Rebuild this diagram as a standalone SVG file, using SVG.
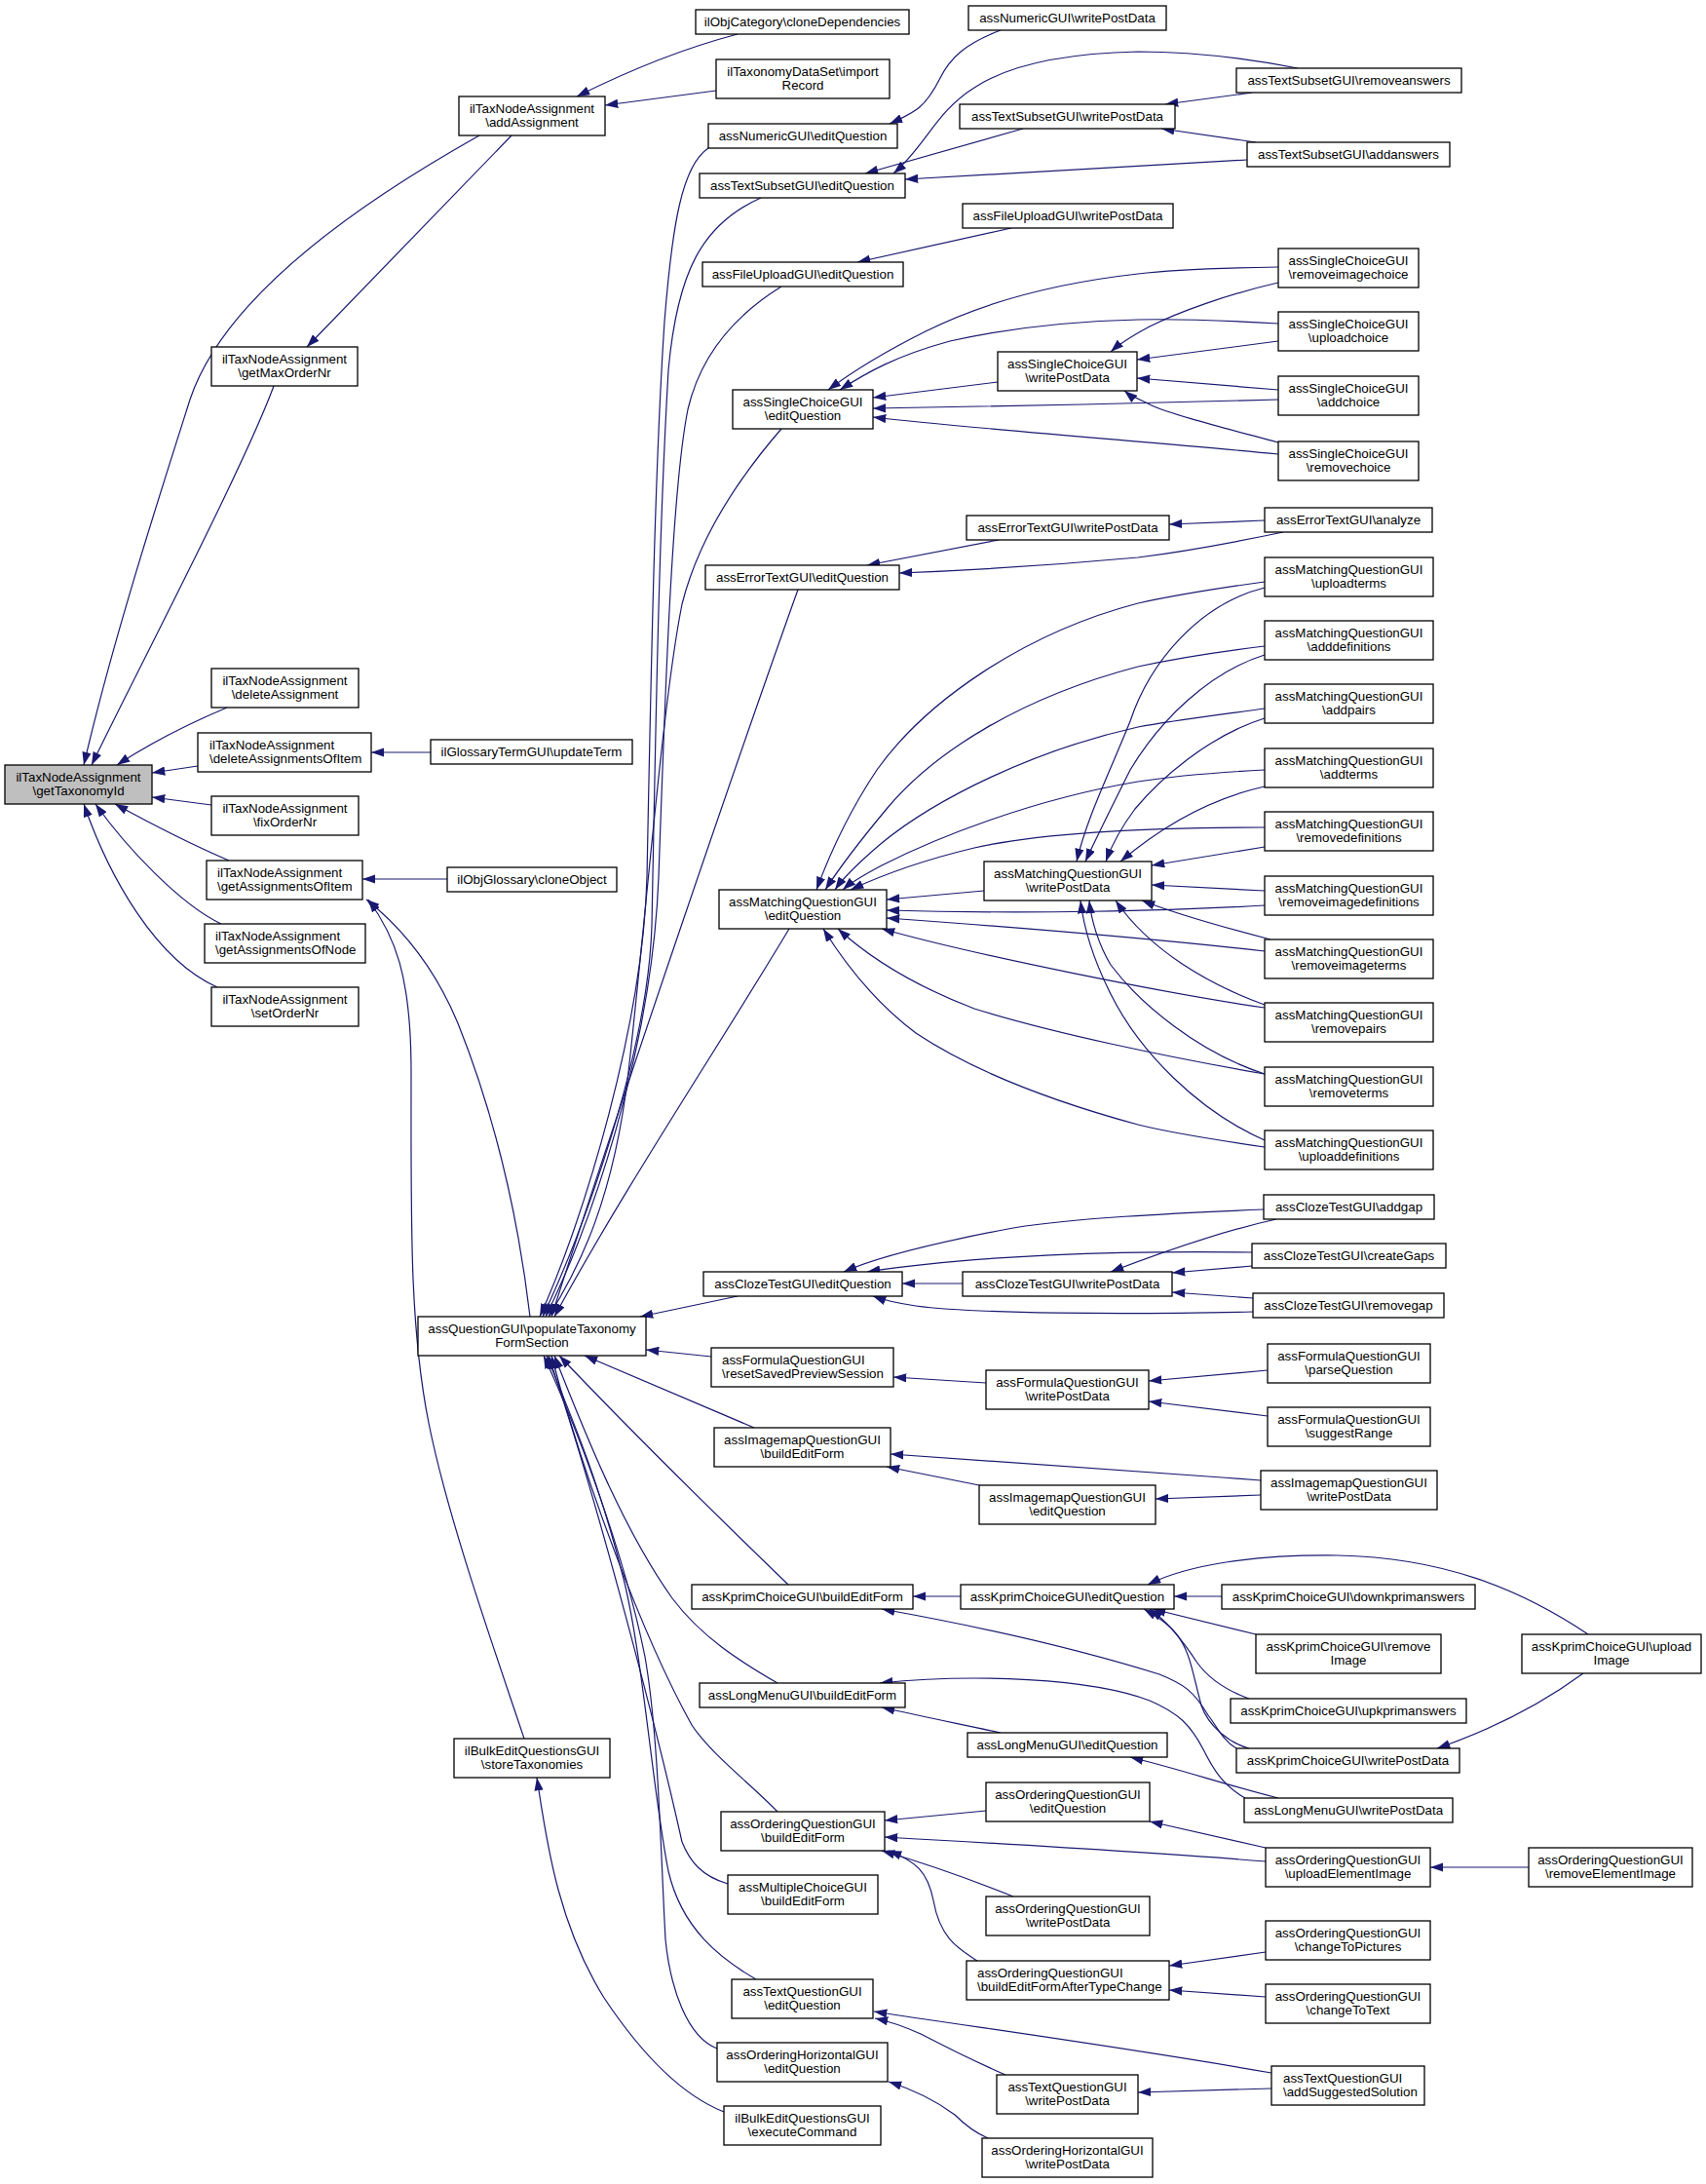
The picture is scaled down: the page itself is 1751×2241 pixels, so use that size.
<svg xmlns="http://www.w3.org/2000/svg" width="1751" height="2241" viewBox="0 0 1751 2241">
<style>
.n rect{fill:#fff;stroke:#000;stroke-width:1.3}
.r rect{fill:#bfbfbf;stroke:#000;stroke-width:1.3}
text{font-family:"Liberation Sans",Arial,Helvetica,sans-serif;font-size:13.33px;fill:#000}
.m{text-anchor:middle}
#edges path{fill:none;stroke:#191970;stroke-width:1.2;marker-end:url(#ah)}
</style>
<defs>
<marker id="ah" viewBox="0 0 13.3 9.3" refX="13.3" refY="4.65" markerWidth="13.3" markerHeight="9.3" markerUnits="userSpaceOnUse" orient="auto"><path d="M0,0 L13.3,4.65 L0,9.3 z" fill="#191970"/></marker>
</defs>
<rect x="0" y="0" width="1751" height="2241" fill="#fff"/>
<g id="edges">
<path d="M492,139 C330,230 225,320 195,410 C160,520 115,660 86,785"/>
<path d="M281,396 C250,480 140,690 94,785"/>
<path d="M233,726 C195,742 155,762 120,785"/>
<path d="M203,786 L156,793"/>
<path d="M217,826 L156,818"/>
<path d="M235,883 C200,868 160,848 118,825"/>
<path d="M227,948 C185,928 130,870 98,825"/>
<path d="M223,1013 C160,985 112,900 86,825"/>
<path d="M525,139 L315,356"/>
<path d="M757,35 C700,50 640,75 592,99"/>
<path d="M735,93 L621,108"/>
<path d="M442,772 L381,772"/>
<path d="M459,902 L372,902"/>
<path d="M544,1351 C532,1250 510,1150 470,1050 C445,990 410,950 376,923"/>
<path d="M538,1784 C510,1700 460,1560 440,1460 C420,1360 422,1250 422,1100 C422,1000 405,960 378,923"/>
<path d="M727,152 C700,170 690,230 682,330 C672,480 668,700 664,900 C660,1050 600,1250 554,1351"/>
<path d="M781,203 C720,230 695,280 686,380 C676,550 673,750 669,950 C665,1080 600,1260 557,1351"/>
<path d="M802,294 C760,320 720,360 706,420 C690,500 683,700 676,900 C669,1080 605,1260 560,1351"/>
<path d="M802,440 C750,500 715,560 700,620 C680,720 662,950 645,1100 C630,1230 595,1300 563,1351"/>
<path d="M819,605 C760,770 640,1120 566,1351"/>
<path d="M810,953 C740,1070 640,1220 569,1351"/>
<path d="M757,1330 L657,1351"/>
<path d="M730,1392 L663,1385"/>
<path d="M774,1465 L600,1391"/>
<path d="M809,1626 C720,1540 630,1450 574,1391"/>
<path d="M798,1727 C760,1705 720,1680 690,1640 C640,1570 600,1470 569,1391"/>
<path d="M798,1859 C770,1830 730,1800 710,1770 C660,1680 600,1520 566,1391"/>
<path d="M747,1933 C720,1925 708,1910 700,1890 C680,1800 620,1560 563,1391"/>
<path d="M776,2031 C740,2010 700,1980 686,1920 C670,1840 660,1700 640,1620 C615,1520 585,1450 561,1391"/>
<path d="M736,2102 C705,2090 688,2040 683,1990 C678,1900 676,1780 662,1700 C640,1590 590,1460 558,1391"/>
<path d="M743,2167 C700,2150 660,2110 620,2050 C570,1970 560,1880 551,1824"/>
<path d="M1027,31 C990,45 975,60 965,80 C950,110 940,115 913,127"/>
<path d="M1332,70 C1280,60 1220,53 1168,53 C1080,55 1030,70 1000,90 C960,115 950,150 917,178"/>
<path d="M1050,132 L888,178"/>
<path d="M1280,164 L929,184"/>
<path d="M1285,95 L1196,107"/>
<path d="M1289,146 L1192,132"/>
<path d="M1038,234 L880,269"/>
<path d="M1024,392 L896,408"/>
<path d="M1312,274 C1250,275 1200,277 1168,281 C1070,292 1000,315 950,340 C900,365 870,385 850,400"/>
<path d="M1312,332 C1260,329 1210,327 1168,328 C1080,330 1020,340 975,350 C920,365 890,382 862,400"/>
<path d="M1312,290 C1260,302 1210,320 1180,335 C1165,343 1150,352 1140,361"/>
<path d="M1312,350 L1167,369"/>
<path d="M1312,400 L1167,388"/>
<path d="M1312,410 C1200,413 1000,418 896,419"/>
<path d="M1312,454 C1260,440 1200,425 1180,415 C1170,410 1160,406 1154,401"/>
<path d="M1312,466 C1200,455 1000,440 896,428"/>
<path d="M1025,554 L890,580"/>
<path d="M1298,534 L1200,538"/>
<path d="M1317,546 C1260,558 1200,568 1168,572 C1080,580 1000,585 923,588"/>
<path d="M1010,914 L910,923"/>
<path d="M1298,597 C1240,605 1200,612 1168,619 C1050,650 950,720 900,790 C870,835 852,875 838,913"/>
<path d="M1298,663 C1240,670 1200,677 1168,684 C1050,715 960,770 910,830 C885,860 862,890 847,913"/>
<path d="M1298,727 C1240,735 1200,740 1168,746 C1060,770 960,820 905,865 C885,882 866,900 857,913"/>
<path d="M1298,790 C1240,793 1200,797 1168,802 C1060,820 960,860 905,888 C888,897 874,905 865,913"/>
<path d="M1298,849 C1200,849 1080,852 1000,870 C950,882 905,898 873,913"/>
<path d="M1298,929 C1200,935 1050,938 910,934"/>
<path d="M1298,976 C1200,965 1050,952 910,942"/>
<path d="M1298,1034 C1200,1020 1000,980 905,953"/>
<path d="M1298,1102 C1200,1085 1080,1060 1000,1035 C940,1012 895,985 860,953"/>
<path d="M1298,1177 C1250,1170 1200,1162 1168,1154 C1080,1130 1000,1100 940,1060 C900,1030 868,990 845,953"/>
<path d="M1298,603 C1230,620 1180,680 1160,740 C1140,790 1115,840 1105,884"/>
<path d="M1298,672 C1240,690 1190,740 1160,790 C1140,830 1125,860 1114,884"/>
<path d="M1298,737 C1240,755 1190,800 1165,830 C1150,850 1140,870 1135,884"/>
<path d="M1298,807 C1240,820 1190,850 1150,884"/>
<path d="M1298,869 L1182,888"/>
<path d="M1298,914 L1182,908"/>
<path d="M1304,964 C1250,950 1200,935 1172,924"/>
<path d="M1298,1031 C1240,1010 1180,975 1145,924"/>
<path d="M1298,1102 C1230,1080 1170,1030 1140,990 C1128,970 1120,945 1118,924"/>
<path d="M1298,1170 C1230,1140 1170,1080 1140,1020 C1120,980 1112,950 1109,924"/>
<path d="M988,1317 L926,1317"/>
<path d="M1297,1241 C1200,1245 1100,1250 1040,1260 C960,1275 900,1290 866,1305"/>
<path d="M1285,1285 C1150,1283 1000,1288 890,1305"/>
<path d="M1286,1346 C1150,1349 1000,1348 940,1340 C920,1337 907,1334 896,1330"/>
<path d="M1310,1251 C1260,1262 1200,1282 1140,1305"/>
<path d="M1285,1299 L1203,1306"/>
<path d="M1286,1332 L1203,1326"/>
<path d="M1012,1419 L917,1413"/>
<path d="M1301,1406 L1179,1417"/>
<path d="M1301,1453 L1179,1438"/>
<path d="M1294,1519 C1150,1508 1000,1498 914,1492"/>
<path d="M1005,1524 L910,1505"/>
<path d="M1294,1534 L1186,1538"/>
<path d="M986,1638 L937,1638"/>
<path d="M1269,1794 C1255,1786 1248,1770 1240,1760 C1225,1735 1215,1728 1190,1718 C1100,1690 1000,1668 905,1651"/>
<path d="M1254,1638 L1205,1638"/>
<path d="M1289,1677 L1183,1651"/>
<path d="M1282,1743 C1260,1735 1240,1722 1228,1705 C1215,1685 1200,1665 1180,1651"/>
<path d="M1282,1794 C1260,1788 1240,1770 1233,1750 C1225,1720 1222,1700 1213,1685 C1205,1670 1190,1660 1174,1651"/>
<path d="M1630,1677 C1560,1630 1480,1598 1373,1596 C1290,1595 1220,1605 1178,1626"/>
<path d="M1625,1717 C1580,1750 1530,1775 1475,1794"/>
<path d="M1027,1778 C990,1770 950,1762 905,1752"/>
<path d="M1278,1845 C1255,1832 1245,1815 1235,1795 C1222,1770 1210,1758 1180,1745 C1120,1722 1000,1717 903,1727"/>
<path d="M1312,1845 C1260,1832 1210,1815 1160,1803"/>
<path d="M1012,1858 L908,1868"/>
<path d="M1299,1910 C1200,1902 1050,1893 908,1885"/>
<path d="M1040,1946 C1000,1930 950,1912 905,1899"/>
<path d="M1003,2012 C985,2000 965,1990 958,1950 C952,1920 940,1910 912,1899"/>
<path d="M1299,1896 L1180,1869"/>
<path d="M1569,1916 L1468,1916"/>
<path d="M1299,2003 L1200,2017"/>
<path d="M1299,2049 L1200,2042"/>
<path d="M1032,2129 C1000,2115 970,2100 945,2087 C925,2078 912,2074 898,2071"/>
<path d="M1305,2127 C1150,2100 1000,2080 897,2064"/>
<path d="M1305,2143 L1168,2147"/>
<path d="M1014,2194 C1000,2188 990,2180 980,2170 C960,2155 940,2145 912,2136"/>
</g>
<g id="getTaxonomyId" class="r"><rect x="5" y="785" width="151" height="40"/><text class="m" x="80.5" y="801.5">ilTaxNodeAssignment</text><text class="m" x="80.5" y="816">\getTaxonomyId</text></g>
<g id="addAssignment" class="n"><rect x="471" y="99" width="150" height="40"/><text class="m" x="546" y="115.5">ilTaxNodeAssignment</text><text class="m" x="546" y="130">\addAssignment</text></g>
<g id="getMaxOrderNr" class="n"><rect x="217" y="356" width="150" height="40"/><text class="m" x="292" y="372.5">ilTaxNodeAssignment</text><text class="m" x="292" y="387">\getMaxOrderNr</text></g>
<g id="cloneDependencies" class="n"><rect x="714" y="10" width="219" height="25"/><text class="m" x="823.5" y="27">ilObjCategory\cloneDependencies</text></g>
<g id="importRecord" class="n"><rect x="735" y="61" width="178" height="40"/><text class="m" x="824" y="77.5">ilTaxonomyDataSet\import</text><text class="m" x="824" y="92">Record</text></g>
<g id="deleteAssignment" class="n"><rect x="217" y="686" width="151" height="40"/><text class="m" x="292.5" y="702.5">ilTaxNodeAssignment</text><text class="m" x="292.5" y="717">\deleteAssignment</text></g>
<g id="deleteAssignmentsOfItem" class="n"><rect x="203" y="752" width="178" height="40"/><text x="215" y="768.5">ilTaxNodeAssignment</text><text x="215" y="783">\deleteAssignmentsOfItem</text></g>
<g id="updateTerm" class="n"><rect x="442" y="759" width="207" height="25"/><text class="m" x="545.5" y="776">ilGlossaryTermGUI\updateTerm</text></g>
<g id="fixOrderNr" class="n"><rect x="217" y="817" width="151" height="40"/><text class="m" x="292.5" y="833.5">ilTaxNodeAssignment</text><text class="m" x="292.5" y="848">\fixOrderNr</text></g>
<g id="getAssignmentsOfItem" class="n"><rect x="212" y="883" width="160" height="40"/><text x="223" y="899.5">ilTaxNodeAssignment</text><text x="223" y="914">\getAssignmentsOfItem</text></g>
<g id="cloneObject" class="n"><rect x="459" y="890" width="174" height="25"/><text class="m" x="546" y="907">ilObjGlossary\cloneObject</text></g>
<g id="getAssignmentsOfNode" class="n"><rect x="210" y="948" width="165" height="40"/><text x="221" y="964.5">ilTaxNodeAssignment</text><text x="221" y="979">\getAssignmentsOfNode</text></g>
<g id="setOrderNr" class="n"><rect x="217" y="1013" width="151" height="40"/><text class="m" x="292.5" y="1029.5">ilTaxNodeAssignment</text><text class="m" x="292.5" y="1044">\setOrderNr</text></g>
<g id="populateTaxonomyFormSection" class="n"><rect x="429" y="1351" width="234" height="40"/><text class="m" x="546" y="1367.5">assQuestionGUI\populateTaxonomy</text><text class="m" x="546" y="1382">FormSection</text></g>
<g id="storeTaxonomies" class="n"><rect x="466" y="1784" width="160" height="40"/><text class="m" x="546" y="1800.5">ilBulkEditQuestionsGUI</text><text class="m" x="546" y="1815">\storeTaxonomies</text></g>
<g id="numEdit" class="n"><rect x="727" y="127" width="194" height="25"/><text class="m" x="824" y="144">assNumericGUI\editQuestion</text></g>
<g id="tsEdit" class="n"><rect x="718" y="178" width="211" height="25"/><text class="m" x="823.5" y="195">assTextSubsetGUI\editQuestion</text></g>
<g id="fuEdit" class="n"><rect x="721" y="269" width="206" height="25"/><text class="m" x="824" y="286">assFileUploadGUI\editQuestion</text></g>
<g id="scEdit" class="n"><rect x="752" y="400" width="144" height="40"/><text class="m" x="824" y="416.5">assSingleChoiceGUI</text><text class="m" x="824" y="431">\editQuestion</text></g>
<g id="etEdit" class="n"><rect x="724" y="580" width="199" height="25"/><text class="m" x="823.5" y="597">assErrorTextGUI\editQuestion</text></g>
<g id="mqEdit" class="n"><rect x="738" y="913" width="172" height="40"/><text class="m" x="824" y="929.5">assMatchingQuestionGUI</text><text class="m" x="824" y="944">\editQuestion</text></g>
<g id="ctEdit" class="n"><rect x="722" y="1305" width="204" height="25"/><text class="m" x="824" y="1322">assClozeTestGUI\editQuestion</text></g>
<g id="fqReset" class="n"><rect x="730" y="1383" width="187" height="40"/><text x="741" y="1399.5">assFormulaQuestionGUI</text><text x="741" y="1414">\resetSavedPreviewSession</text></g>
<g id="imBuild" class="n"><rect x="733" y="1465" width="181" height="40"/><text class="m" x="823.5" y="1481.5">assImagemapQuestionGUI</text><text class="m" x="823.5" y="1496">\buildEditForm</text></g>
<g id="kpBuild" class="n"><rect x="710" y="1626" width="227" height="25"/><text class="m" x="823.5" y="1643">assKprimChoiceGUI\buildEditForm</text></g>
<g id="lmBuild" class="n"><rect x="718" y="1727" width="211" height="25"/><text class="m" x="823.5" y="1744">assLongMenuGUI\buildEditForm</text></g>
<g id="oqBuild" class="n"><rect x="740" y="1859" width="168" height="40"/><text class="m" x="824" y="1875.5">assOrderingQuestionGUI</text><text class="m" x="824" y="1890">\buildEditForm</text></g>
<g id="mcBuild" class="n"><rect x="747" y="1924" width="154" height="40"/><text class="m" x="824" y="1940.5">assMultipleChoiceGUI</text><text class="m" x="824" y="1955">\buildEditForm</text></g>
<g id="tqEdit" class="n"><rect x="751" y="2031" width="145" height="40"/><text class="m" x="823.5" y="2047.5">assTextQuestionGUI</text><text class="m" x="823.5" y="2062">\editQuestion</text></g>
<g id="ohEdit" class="n"><rect x="736" y="2096" width="175" height="40"/><text class="m" x="823.5" y="2112.5">assOrderingHorizontalGUI</text><text class="m" x="823.5" y="2127">\editQuestion</text></g>
<g id="executeCommand" class="n"><rect x="743" y="2161" width="161" height="40"/><text class="m" x="823.5" y="2177.5">ilBulkEditQuestionsGUI</text><text class="m" x="823.5" y="2192">\executeCommand</text></g>
<g id="numWPD" class="n"><rect x="994" y="6" width="203" height="25"/><text class="m" x="1095.5" y="23">assNumericGUI\writePostData</text></g>
<g id="tsWPD" class="n"><rect x="985" y="107" width="221" height="25"/><text class="m" x="1095.5" y="124">assTextSubsetGUI\writePostData</text></g>
<g id="fuWPD" class="n"><rect x="988" y="209" width="216" height="25"/><text class="m" x="1096" y="226">assFileUploadGUI\writePostData</text></g>
<g id="scWPD" class="n"><rect x="1024" y="361" width="143" height="40"/><text class="m" x="1095.5" y="377.5">assSingleChoiceGUI</text><text class="m" x="1095.5" y="392">\writePostData</text></g>
<g id="etWPD" class="n"><rect x="992" y="529" width="208" height="25"/><text class="m" x="1096" y="546">assErrorTextGUI\writePostData</text></g>
<g id="mqWPD" class="n"><rect x="1010" y="884" width="172" height="40"/><text class="m" x="1096" y="900.5">assMatchingQuestionGUI</text><text class="m" x="1096" y="915">\writePostData</text></g>
<g id="ctWPD" class="n"><rect x="988" y="1305" width="215" height="25"/><text class="m" x="1095.5" y="1322">assClozeTestGUI\writePostData</text></g>
<g id="fqWPD" class="n"><rect x="1012" y="1406" width="167" height="40"/><text class="m" x="1095.5" y="1422.5">assFormulaQuestionGUI</text><text class="m" x="1095.5" y="1437">\writePostData</text></g>
<g id="imEdit" class="n"><rect x="1005" y="1524" width="181" height="40"/><text class="m" x="1095.5" y="1540.5">assImagemapQuestionGUI</text><text class="m" x="1095.5" y="1555">\editQuestion</text></g>
<g id="kpEdit" class="n"><rect x="986" y="1626" width="219" height="25"/><text class="m" x="1095.5" y="1643">assKprimChoiceGUI\editQuestion</text></g>
<g id="lmEdit" class="n"><rect x="993" y="1778" width="205" height="25"/><text class="m" x="1095.5" y="1795">assLongMenuGUI\editQuestion</text></g>
<g id="oqEdit" class="n"><rect x="1012" y="1829" width="168" height="40"/><text class="m" x="1096" y="1845.5">assOrderingQuestionGUI</text><text class="m" x="1096" y="1860">\editQuestion</text></g>
<g id="oqWPD" class="n"><rect x="1012" y="1946" width="168" height="40"/><text class="m" x="1096" y="1962.5">assOrderingQuestionGUI</text><text class="m" x="1096" y="1977">\writePostData</text></g>
<g id="oqBEFATC" class="n"><rect x="992" y="2012" width="208" height="40"/><text x="1003" y="2028.5">assOrderingQuestionGUI</text><text x="1003" y="2043">\buildEditFormAfterTypeChange</text></g>
<g id="tqWPD" class="n"><rect x="1023" y="2129" width="145" height="40"/><text class="m" x="1095.5" y="2145.5">assTextQuestionGUI</text><text class="m" x="1095.5" y="2160">\writePostData</text></g>
<g id="ohWPD" class="n"><rect x="1008" y="2194" width="175" height="40"/><text class="m" x="1095.5" y="2210.5">assOrderingHorizontalGUI</text><text class="m" x="1095.5" y="2225">\writePostData</text></g>
<g id="tsRemove" class="n"><rect x="1269" y="70" width="231" height="25"/><text class="m" x="1384.5" y="87">assTextSubsetGUI\removeanswers</text></g>
<g id="tsAdd" class="n"><rect x="1280" y="146" width="208" height="25"/><text class="m" x="1384" y="163">assTextSubsetGUI\addanswers</text></g>
<g id="scRemImg" class="n"><rect x="1312" y="255" width="144" height="40"/><text class="m" x="1384" y="271.5">assSingleChoiceGUI</text><text class="m" x="1384" y="286">\removeimagechoice</text></g>
<g id="scUpload" class="n"><rect x="1312" y="320" width="144" height="40"/><text class="m" x="1384" y="336.5">assSingleChoiceGUI</text><text class="m" x="1384" y="351">\uploadchoice</text></g>
<g id="scAdd" class="n"><rect x="1312" y="386" width="144" height="40"/><text class="m" x="1384" y="402.5">assSingleChoiceGUI</text><text class="m" x="1384" y="417">\addchoice</text></g>
<g id="scRemove" class="n"><rect x="1312" y="453" width="144" height="40"/><text class="m" x="1384" y="469.5">assSingleChoiceGUI</text><text class="m" x="1384" y="484">\removechoice</text></g>
<g id="etAnalyze" class="n"><rect x="1298" y="521" width="172" height="25"/><text class="m" x="1384" y="538">assErrorTextGUI\analyze</text></g>
<g id="mqUploadterms" class="n"><rect x="1298" y="572" width="173" height="40"/><text class="m" x="1384.5" y="588.5">assMatchingQuestionGUI</text><text class="m" x="1384.5" y="603">\uploadterms</text></g>
<g id="mqAdddefinitions" class="n"><rect x="1298" y="637" width="173" height="40"/><text class="m" x="1384.5" y="653.5">assMatchingQuestionGUI</text><text class="m" x="1384.5" y="668">\adddefinitions</text></g>
<g id="mqAddpairs" class="n"><rect x="1298" y="702" width="173" height="40"/><text class="m" x="1384.5" y="718.5">assMatchingQuestionGUI</text><text class="m" x="1384.5" y="733">\addpairs</text></g>
<g id="mqAddterms" class="n"><rect x="1298" y="768" width="173" height="40"/><text class="m" x="1384.5" y="784.5">assMatchingQuestionGUI</text><text class="m" x="1384.5" y="799">\addterms</text></g>
<g id="mqRemovedefinitions" class="n"><rect x="1298" y="833" width="173" height="40"/><text class="m" x="1384.5" y="849.5">assMatchingQuestionGUI</text><text class="m" x="1384.5" y="864">\removedefinitions</text></g>
<g id="mqRemoveimagedefinitions" class="n"><rect x="1298" y="899" width="173" height="40"/><text class="m" x="1384.5" y="915.5">assMatchingQuestionGUI</text><text class="m" x="1384.5" y="930">\removeimagedefinitions</text></g>
<g id="mqRemoveimageterms" class="n"><rect x="1298" y="964" width="173" height="40"/><text class="m" x="1384.5" y="980.5">assMatchingQuestionGUI</text><text class="m" x="1384.5" y="995">\removeimageterms</text></g>
<g id="mqRemovepairs" class="n"><rect x="1298" y="1029" width="173" height="40"/><text class="m" x="1384.5" y="1045.5">assMatchingQuestionGUI</text><text class="m" x="1384.5" y="1060">\removepairs</text></g>
<g id="mqRemoveterms" class="n"><rect x="1298" y="1095" width="173" height="40"/><text class="m" x="1384.5" y="1111.5">assMatchingQuestionGUI</text><text class="m" x="1384.5" y="1126">\removeterms</text></g>
<g id="mqUploaddefinitions" class="n"><rect x="1298" y="1160" width="173" height="40"/><text class="m" x="1384.5" y="1176.5">assMatchingQuestionGUI</text><text class="m" x="1384.5" y="1191">\uploaddefinitions</text></g>
<g id="ctAddgap" class="n"><rect x="1297" y="1226" width="175" height="25"/><text class="m" x="1384.5" y="1243">assClozeTestGUI\addgap</text></g>
<g id="ctCreateGaps" class="n"><rect x="1285" y="1276" width="199" height="25"/><text class="m" x="1384.5" y="1293">assClozeTestGUI\createGaps</text></g>
<g id="ctRemovegap" class="n"><rect x="1286" y="1327" width="196" height="25"/><text class="m" x="1384" y="1344">assClozeTestGUI\removegap</text></g>
<g id="fqParse" class="n"><rect x="1301" y="1379" width="167" height="40"/><text class="m" x="1384.5" y="1395.5">assFormulaQuestionGUI</text><text class="m" x="1384.5" y="1410">\parseQuestion</text></g>
<g id="fqSuggest" class="n"><rect x="1301" y="1444" width="167" height="40"/><text class="m" x="1384.5" y="1460.5">assFormulaQuestionGUI</text><text class="m" x="1384.5" y="1475">\suggestRange</text></g>
<g id="imWPD" class="n"><rect x="1294" y="1509" width="181" height="40"/><text class="m" x="1384.5" y="1525.5">assImagemapQuestionGUI</text><text class="m" x="1384.5" y="1540">\writePostData</text></g>
<g id="kpDown" class="n"><rect x="1254" y="1626" width="260" height="25"/><text class="m" x="1384" y="1643">assKprimChoiceGUI\downkprimanswers</text></g>
<g id="kpRemImg" class="n"><rect x="1289" y="1677" width="190" height="40"/><text class="m" x="1384" y="1693.5">assKprimChoiceGUI\remove</text><text class="m" x="1384" y="1708">Image</text></g>
<g id="kpUp" class="n"><rect x="1263" y="1743" width="242" height="25"/><text class="m" x="1384" y="1760">assKprimChoiceGUI\upkprimanswers</text></g>
<g id="kpWPD" class="n"><rect x="1269" y="1794" width="229" height="25"/><text class="m" x="1383.5" y="1811">assKprimChoiceGUI\writePostData</text></g>
<g id="lmWPD" class="n"><rect x="1277" y="1845" width="214" height="25"/><text class="m" x="1384" y="1862">assLongMenuGUI\writePostData</text></g>
<g id="oqUpload" class="n"><rect x="1299" y="1896" width="169" height="40"/><text class="m" x="1383.5" y="1912.5">assOrderingQuestionGUI</text><text class="m" x="1383.5" y="1927">\uploadElementImage</text></g>
<g id="oqToPictures" class="n"><rect x="1299" y="1971" width="169" height="40"/><text class="m" x="1383.5" y="1987.5">assOrderingQuestionGUI</text><text class="m" x="1383.5" y="2002">\changeToPictures</text></g>
<g id="oqToText" class="n"><rect x="1299" y="2036" width="169" height="40"/><text class="m" x="1383.5" y="2052.5">assOrderingQuestionGUI</text><text class="m" x="1383.5" y="2067">\changeToText</text></g>
<g id="tqAddSug" class="n"><rect x="1305" y="2120" width="157" height="40"/><text x="1317" y="2136.5">assTextQuestionGUI</text><text x="1317" y="2151">\addSuggestedSolution</text></g>
<g id="kpUploadImage" class="n"><rect x="1562" y="1677" width="184" height="40"/><text class="m" x="1654" y="1693.5">assKprimChoiceGUI\upload</text><text class="m" x="1654" y="1708">Image</text></g>
<g id="oqRemoveElementImage" class="n"><rect x="1569" y="1896" width="168" height="40"/><text class="m" x="1653" y="1912.5">assOrderingQuestionGUI</text><text class="m" x="1653" y="1927">\removeElementImage</text></g>
</svg>
